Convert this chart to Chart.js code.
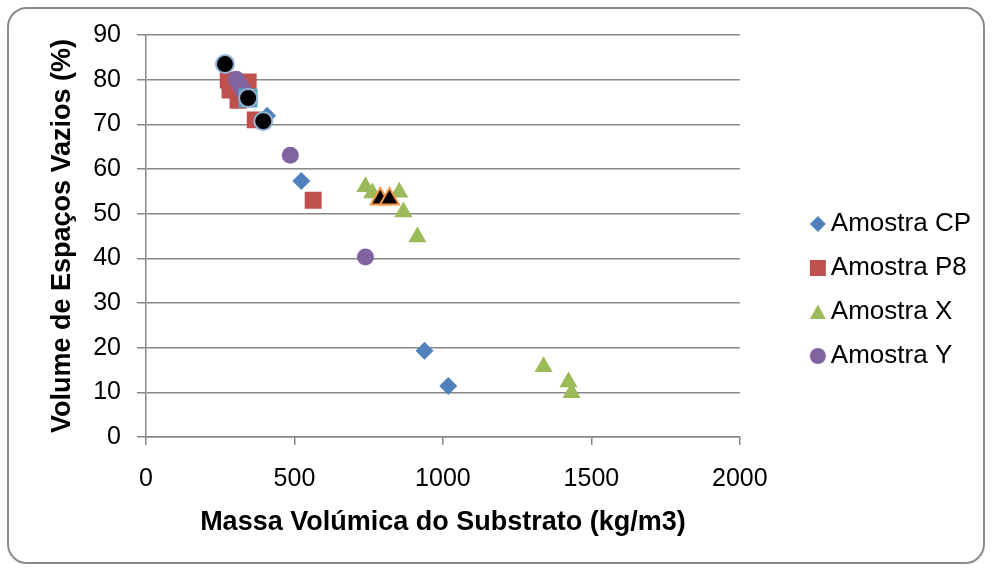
<!DOCTYPE html>
<html>
<head>
<meta charset="utf-8">
<script src="https://cdn.jsdelivr.net/npm/chart.js@4/dist/chart.umd.min.js"></script>
<style>
  html, body { margin: 0; padding: 0; background: #fff; }
  #wrap { position: relative; width: 992px; height: 572px; overflow: hidden; }
  #frame { position: absolute; left: 7px; top: 7px; width: 978px; height: 557px; box-sizing: border-box;
           border: 2px solid #8a8a8a; border-radius: 20px; pointer-events: none; }
  canvas { position: absolute; left: 0; top: 0; }
</style>
</head>
<body>
<div id="wrap">
  <div id="frame"></div>
  <canvas id="c" width="992" height="572"></canvas>
</div>
<script>
// ---- data ----
const seriesNames = ['Amostra CP', 'Amostra P8', 'Amostra X', 'Amostra Y'];
const xTickValues = [0, 500, 1000, 1500, 2000];
const yTickValues = [0, 10, 20, 30, 40, 50, 60, 70, 80, 90];

const cpX = [408, 395, 523, 938, 1018];
const cpY = [71.9, 70.7, 57.3, 19.3, 11.4];

const p8X = [277, 283, 344, 310, 368, 563];
const p8Y = [79.9, 77.7, 79.5, 75.4, 71.0, 53.0];

const xX = [739, 762, 853, 867, 914, 1339, 1423, 1433];
const xY = [56.0, 54.6, 54.8, 50.4, 44.8, 15.7, 12.3, 9.9];

const yX = [304, 317, 327, 486, 739];
const yY = [80.1, 78.8, 77.5, 63.1, 40.3];

// highlighted (black) points
const hiYX = [266, 344, 395];
const hiYY = [83.5, 75.9, 70.7];
const hiXX = [789, 820];
const hiXY = [53.3, 53.3];
const hiP8X = [344];
const hiP8Y = [75.9];

function pts(xs, ys) { return xs.map((x, i) => ({ x: x, y: ys[i] })); }

const C_CP = '#4F81BD', C_P8 = '#C0504D', C_X = '#9BBB59', C_Y = '#8064A2';
const GRID = '#878787';
const FONT = "'Liberation Sans', Arial, sans-serif";

// legend marker images
function marker(shape, color) {
  const W = 78, H = 20, cx = 69, cy = 10;
  const cv = document.createElement('canvas');
  cv.width = W; cv.height = H;
  const g = cv.getContext('2d');
  g.fillStyle = color;
  g.beginPath();
  if (shape === 'diamond') {
    g.moveTo(cx, cy - 8); g.lineTo(cx + 8, cy); g.lineTo(cx, cy + 8); g.lineTo(cx - 8, cy);
  } else if (shape === 'square') {
    g.rect(cx - 8, cy - 8, 16, 16);
  } else if (shape === 'triangle') {
    g.moveTo(cx, cy - 7.5); g.lineTo(cx + 8, cy + 7); g.lineTo(cx - 8, cy + 7);
  } else {
    g.arc(cx, cy, 8, 0, Math.PI * 2);
  }
  g.closePath();
  g.fill();
  return cv;
}
const legendMarkers = [marker('diamond', C_CP), marker('square', C_P8), marker('triangle', C_X), marker('circle', C_Y)];

const data = {
  datasets: [
    { label: seriesNames[0], data: pts(cpX, cpY), pointStyle: 'rectRot', pointRadius: 9,
      backgroundColor: C_CP, borderColor: C_CP, borderWidth: 0, order: 5 },
    { label: seriesNames[1], data: pts(p8X, p8Y), pointStyle: 'rect', pointRadius: 12,
      backgroundColor: C_P8, borderColor: C_P8, borderWidth: 0, order: 6 },
    { label: seriesNames[2], data: pts(xX, xY), pointStyle: 'triangle', pointRadius: 10.5,
      backgroundColor: C_X, borderColor: C_X, borderWidth: 0, order: 4 },
    { label: seriesNames[3], data: pts(yX, yY), pointStyle: 'circle', pointRadius: 8.5,
      backgroundColor: C_Y, borderColor: C_Y, borderWidth: 0, order: 3 },
    { label: 'p8h', data: pts(hiP8X, hiP8Y), pointStyle: 'rect', pointRadius: 12,
      backgroundColor: C_P8, borderColor: '#4BACC6', borderWidth: 2, order: 2 },
    { label: 'xh', data: pts(hiXX, hiXY), pointStyle: 'triangle', pointRadius: 11,
      backgroundColor: '#000', borderColor: '#F79646', borderWidth: 2, order: 1 },
    { label: 'yh', data: pts(hiYX, hiYY), pointStyle: 'circle', pointRadius: 9,
      backgroundColor: '#000', borderColor: '#95B3D7', borderWidth: 2, order: 0 }
  ]
};

new Chart(document.getElementById('c'), {
  type: 'scatter',
  data: data,
  options: {
    responsive: false,
    animation: false,
    events: [],
    layout: { padding: { left: 0, right: 11, top: 35, bottom: 0 } },
    elements: { point: { hoverRadius: 9 } },
    scales: {
      x: {
        type: 'linear', min: 0, max: 2000,
        afterBuildTicks: (s) => { s.ticks = xTickValues.map(v => ({ value: v })); },
        afterFit: (s) => { s.height = 135; },
        ticks: { color: '#000', font: { family: FONT, size: 25 }, padding: 19, maxRotation: 0,
                 callback: (v) => String(v) },
        grid: { drawOnChartArea: false, drawTicks: true, tickLength: 8, color: GRID, lineWidth: 1.5 },
        border: { display: true, color: GRID, width: 1.5 },
        title: { display: true, text: 'Massa Volúmica do Substrato (kg/m3)', color: '#000',
                 font: { family: FONT, size: 27, weight: 'bold' }, padding: { top: 0, bottom: 33 } }
      },
      y: {
        type: 'linear', min: 0, max: 90,
        afterBuildTicks: (s) => { s.ticks = yTickValues.map(v => ({ value: v })); },
        afterFit: (s) => { s.width = 146; },
        ticks: { color: '#000', font: { family: FONT, size: 25 }, padding: 16,
                 callback: (v) => String(v) },
        grid: { drawTicks: true, tickLength: 9, color: GRID, lineWidth: 1.5 },
        border: { display: true, color: GRID, width: 1.5 },
        title: { display: true, text: 'Volume de Espaços Vazios (%)', color: '#000',
                 font: { family: FONT, size: 27, weight: 'bold' }, padding: { top: 46, bottom: 0 } }
      }
    },
    plugins: {
      tooltip: { enabled: false },
      legend: {
        position: 'right',
        align: 'start',
        title: { display: true, text: ' ', font: { size: 10 }, padding: { top: 146, bottom: 0 } },
        labels: {
          usePointStyle: true,
          pointStyleWidth: 60,
          padding: 18,
          color: '#000',
          font: { family: FONT, size: 26 },
          generateLabels: (chart) => seriesNames.map((name, i) => ({
            text: name,
            pointStyle: legendMarkers[i],
            fillStyle: chart.data.datasets[i].backgroundColor,
            strokeStyle: chart.data.datasets[i].borderColor,
            lineWidth: 0,
            hidden: false,
            datasetIndex: i,
            fontColor: '#000'
          }))
        }
      }
    }
  }
});
</script>
</body>
</html>
